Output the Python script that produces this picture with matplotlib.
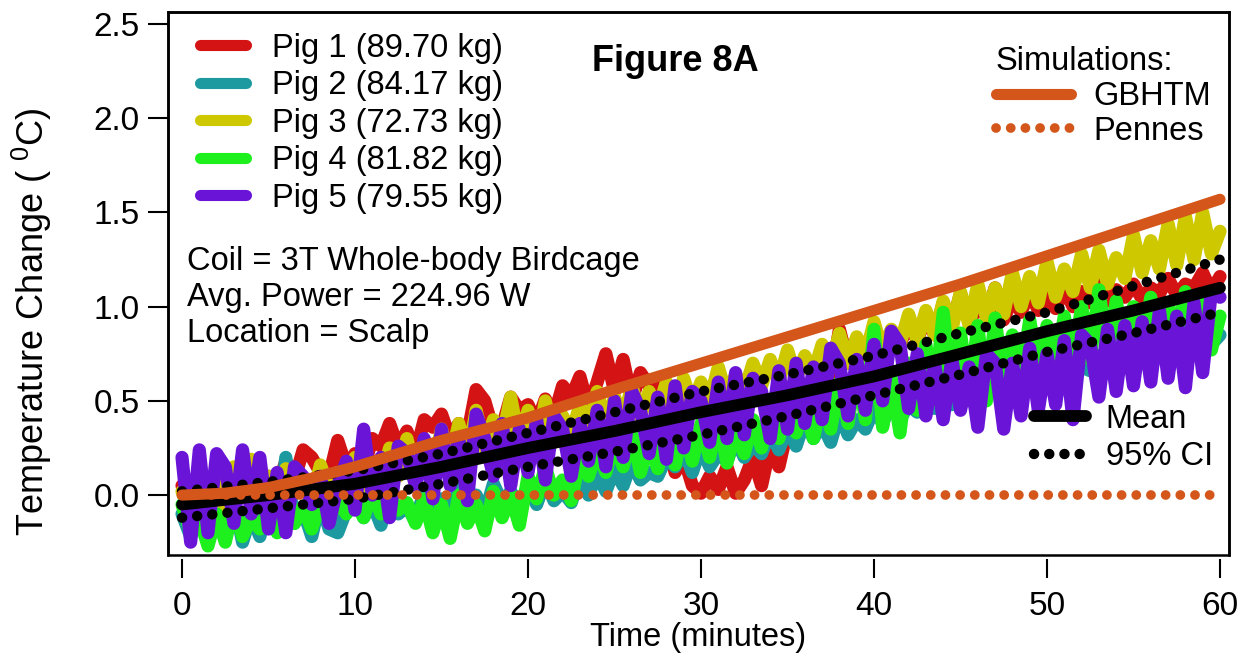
import numpy as np
import matplotlib
matplotlib.use("Agg")
import matplotlib.pyplot as plt
from matplotlib.lines import Line2D

plt.rcParams['font.family'] = ['Liberation Sans', 'DejaVu Sans']
plt.rcParams['mathtext.default'] = 'regular'

# ---------------- data ----------------
# pig traces sampled every 0.5 min, 0..60 min
t_pig = np.arange(121) * 0.5

pig1 = [0.05, -0.05, 0.10, 0.06, 0.12, -0.02, 0.08, 0.02, 0.14, 0.10,
        0.10, 0.04, 0.18, 0.08, 0.24, 0.20, 0.12, 0.10, 0.29, 0.15,
        0.22, 0.14, 0.30, 0.26, 0.38, 0.25, 0.34, 0.22, 0.40, 0.36,
        0.43, 0.30, 0.38, 0.32, 0.56, 0.50, 0.34, 0.36, 0.52, 0.45,
        0.48, 0.38, 0.51, 0.42, 0.58, 0.52, 0.63, 0.46, 0.60, 0.75,
        0.55, 0.72, 0.50, 0.65, 0.58, 0.60, 0.30, 0.12, 0.20, 0.05,
        0.01, 0.10, 0.03, 0.15, 0.01, 0.08, 0.20, 0.05, 0.26, 0.15,
        0.35, 0.30, 0.50, 0.45, 0.65, 0.60, 0.88, 0.70, 0.82, 0.75,
        0.89, 0.78, 0.85, 0.80, 0.91, 0.82, 0.95, 0.85, 1.02, 0.90,
        1.07, 0.92, 1.00, 0.95, 1.10, 0.93, 1.05, 0.97, 1.08, 0.98,
        1.06, 0.99, 1.10, 1.00, 1.08, 1.02, 1.12, 1.03, 1.09, 1.05,
        1.12, 1.04, 1.10, 1.07, 1.15, 1.06, 1.12, 1.10, 1.18, 1.08,
        1.16]

pig2 = [-0.10, -0.22, -0.05, -0.24, -0.12, -0.20, -0.02, -0.25, -0.10, -0.22,
        -0.05, -0.18, 0.20, -0.15, -0.08, -0.22, -0.02, -0.18, -0.20, -0.08,
        0.03, -0.12, -0.04, -0.16, 0.00, -0.10, -0.06, -0.14, 0.02, -0.08,
        -0.02, -0.12, 0.04, -0.08, 0.00, -0.10, 0.06, -0.04, 0.02, -0.06,
        0.05, -0.05, 0.08, -0.03, 0.02, -0.04, 0.10, 0.00, 0.12, 0.02,
        0.14, 0.05, 0.18, 0.08, 0.12, 0.10, 0.20, 0.15, 0.24, 0.12,
        0.26, 0.15, 0.22, 0.18, 0.30, 0.20, 0.27, 0.22, 0.34, 0.24,
        0.36, 0.26, 0.40, 0.30, 0.38, 0.28, 0.44, 0.32, 0.40, 0.35,
        0.46, 0.38, 0.50, 0.40, 0.48, 0.44, 0.54, 0.46, 0.52, 0.48,
        0.56, 0.50, 0.60, 0.52, 0.58, 0.55, 0.64, 0.57, 0.62, 0.60,
        0.66, 0.60, 0.70, 0.63, 0.68, 0.66, 0.74, 0.68, 0.72, 0.70,
        0.77, 0.71, 0.80, 0.74, 0.78, 0.76, 0.84, 0.78, 0.82, 0.80,
        0.85]

pig3 = [0.02, -0.10, 0.12, -0.05, 0.08, -0.08, 0.15, 0.00, 0.19, -0.02,
        0.10, -0.04, 0.14, 0.02, 0.08, -0.02, 0.16, 0.04, 0.12, 0.06,
        0.20, 0.05, 0.15, 0.08, 0.25, 0.10, 0.30, 0.12, 0.28, 0.15,
        0.35, 0.18, 0.38, 0.20, 0.45, 0.25, 0.40, 0.30, 0.52, 0.28,
        0.45, 0.25, 0.50, 0.30, 0.42, 0.32, 0.48, 0.35, 0.55, 0.38,
        0.52, 0.40, 0.58, 0.42, 0.55, 0.45, 0.60, 0.46, 0.62, 0.48,
        0.60, 0.50, 0.68, 0.52, 0.64, 0.55, 0.70, 0.58, 0.72, 0.60,
        0.77, 0.62, 0.74, 0.65, 0.80, 0.68, 0.86, 0.70, 0.84, 0.74,
        0.92, 0.76, 0.88, 0.80, 0.96, 0.82, 0.98, 0.85, 1.03, 0.88,
        1.08, 0.90, 1.12, 0.94, 1.10, 0.96, 1.18, 1.00, 1.16, 1.02,
        1.24, 1.05, 1.20, 1.08, 1.28, 1.10, 1.30, 1.12, 1.26, 1.15,
        1.38, 1.18, 1.35, 1.20, 1.44, 1.22, 1.48, 1.25, 1.50, 1.28,
        1.40]

pig4 = [-0.05, -0.20, -0.12, -0.27, -0.10, -0.25, -0.05, -0.22, -0.12, -0.18,
        -0.08, -0.20, -0.02, -0.15, -0.06, -0.18, -0.04, -0.13, -0.02, -0.10,
        -0.03, -0.12, 0.02, -0.10, 0.00, -0.08, -0.04, -0.15, -0.02, -0.20,
        -0.05, -0.23, 0.00, -0.15, -0.05, -0.19, 0.02, -0.12, 0.00, -0.16,
        0.10, -0.02, 0.15, 0.00, 0.08, -0.03, 0.20, 0.10, 0.24, 0.12,
        0.30, 0.15, 0.33, 0.12, 0.28, 0.14, 0.32, 0.16, 0.36, 0.18,
        0.38, 0.20, 0.41, 0.17, 0.35, 0.22, 0.40, 0.25, 0.46, 0.30,
        0.49, 0.33, 0.47, 0.30, 0.52, 0.35, 0.60, 0.38, 0.70, 0.40,
        0.88, 0.36, 0.62, 0.33, 0.70, 0.45, 0.80, 0.50, 0.97, 0.55,
        0.86, 0.52, 0.90, 0.50, 0.94, 0.58, 0.85, 0.62, 0.93, 0.66,
        0.90, 0.68, 0.95, 0.70, 1.00, 0.72, 1.09, 0.75, 1.03, 0.78,
        1.00, 0.80, 1.05, 0.78, 1.02, 0.82, 1.08, 0.82, 1.05, 0.77,
        0.95]

pig5 = [0.20, -0.25, 0.24, -0.20, 0.22, 0.15, -0.15, 0.24, -0.10, 0.20,
        -0.18, 0.12, -0.20, 0.15, 0.10, -0.05, 0.10, -0.15, 0.05, 0.18,
        -0.08, 0.35, 0.00, 0.20, -0.12, 0.26, 0.22, 0.05, 0.30, -0.02,
        0.35, 0.05, 0.30, -0.03, 0.43, 0.30, 0.10, 0.38, 0.05, 0.35,
        0.12, 0.40, 0.08, 0.42, 0.35, 0.10, 0.38, 0.18, 0.45, 0.15,
        0.50, 0.20, 0.55, 0.45, 0.22, 0.52, 0.19, 0.58, 0.25, 0.55,
        0.50, 0.28, 0.60, 0.30, 0.65, 0.32, 0.62, 0.55, 0.30, 0.66,
        0.35, 0.70, 0.38, 0.68, 0.40, 0.78, 0.70, 0.42, 0.72, 0.45,
        0.80, 0.50, 0.87, 0.80, 0.46, 0.75, 0.42, 0.70, 0.40, 0.72,
        0.45, 0.68, 0.36, 0.75, 0.70, 0.35, 0.70, 0.42, 0.78, 0.45,
        0.75, 0.48, 0.82, 0.40, 0.85, 0.80, 0.52, 0.88, 0.55, 0.90,
        0.58, 0.92, 0.60, 0.98, 0.62, 0.95, 0.57, 1.02, 0.65, 1.08,
        1.05]

pig_labels = ["Pig 1 (89.70 kg)", "Pig 2 (84.17 kg)", "Pig 3 (72.73 kg)",
              "Pig 4 (81.82 kg)", "Pig 5 (79.55 kg)"]
pig_colors = ["#D41414", "#1C9AA0", "#CDC800", "#1EF01E", "#6A14D8"]

# mean and 95% CI, every 5 min
t_stat = [0, 5, 10, 15, 20, 25, 30, 35, 40, 45, 50, 55, 60]
mean_v = [-0.05, 0.00, 0.06, 0.15, 0.25, 0.34, 0.44, 0.53, 0.63, 0.75, 0.87, 0.98, 1.10]
ci_up = [0.02, 0.07, 0.13, 0.22, 0.33, 0.44, 0.55, 0.64, 0.74, 0.86, 0.97, 1.11, 1.25]
ci_lo = [-0.12, -0.07, -0.02, 0.06, 0.15, 0.23, 0.32, 0.42, 0.53, 0.64, 0.76, 0.86, 0.97]

# simulations
t_sim = [0, 2.5, 5, 7.5, 10, 12.5, 15, 17.5, 20, 25, 30, 35, 40, 45, 50, 55, 60]
gbhtm = [0.0, 0.01, 0.04, 0.09, 0.15, 0.22, 0.29, 0.35, 0.41, 0.56, 0.70, 0.84,
         0.98, 1.12, 1.27, 1.42, 1.57]
pennes_t = [0, 60]
pennes = [0.0, 0.0]

orange = "#D4561A"
FS = 23.5

# ---------------- figure ----------------
fig = plt.figure(figsize=(12.51, 6.62), dpi=100)
ax = fig.add_axes([168/1251, 107/662, (1229-168)/1251, (555-12)/662])

for y, c in zip([pig1, pig2, pig3, pig4, pig5], pig_colors):
    ax.plot(t_pig, y, color=c, lw=9.5, solid_capstyle='round',
            solid_joinstyle='round', zorder=2)

ax.plot(t_stat, mean_v, color='black', lw=8.5, solid_capstyle='round', zorder=3)
for ci in (ci_up, ci_lo):
    ax.plot(t_stat, ci, color='black', lw=7.5, linestyle=(0, (0.01, 1.45)),
            dash_capstyle='round', zorder=3)

ax.plot(pennes_t, pennes, color=orange, lw=7.0, linestyle=(0, (0.01, 1.5)),
        dash_capstyle='round', zorder=4)
ax.plot(t_sim, gbhtm, color=orange, lw=8.0, solid_capstyle='round', zorder=5)

ax.set_xlim(-0.81, 60.52)
ax.set_ylim(-0.318, 2.564)
ax.set_xticks([0, 10, 20, 30, 40, 50, 60])
ax.set_yticks([0.0, 0.5, 1.0, 1.5, 2.0, 2.5])
ax.set_yticklabels(["0.0", "0.5", "1.0", "1.5", "2.0", "2.5"])

for s in ax.spines.values():
    s.set_linewidth(1.8)
ax.spines['bottom'].set_position(('outward', 3))
ax.spines['bottom'].set_color('none')
frame = plt.Rectangle((0, 0), 1, 1, transform=ax.transAxes, fill=False,
                      lw=1.8, ec='black', zorder=10, clip_on=False)
ax.add_patch(frame)

ax.tick_params(axis='y', direction='out', length=14.5, width=1.5, pad=6,
               labelsize=24)
ax.tick_params(axis='x', direction='out', length=14, width=1.5, pad=9,
               labelsize=24)

ax.set_xlabel("Time (minutes)", fontsize=FS, labelpad=0)
ax.set_ylabel("Temperature Change ( $^{0}$C)", fontsize=26)
ax.yaxis.set_label_coords(-0.107, 0.43)

# pig legend
pig_handles = [Line2D([], [], color=c, lw=8, solid_capstyle='round') for c in pig_colors]
leg1 = ax.legend(pig_handles, pig_labels, loc='upper left',
                 bbox_to_anchor=(0.030, 0.962), frameon=False, fontsize=FS,
                 handlelength=1.4, handletextpad=0.8, labelspacing=0.2,
                 borderpad=0, borderaxespad=0)
ax.add_artist(leg1)

# simulations legend
sim_handles = [Line2D([], [], color=orange, lw=8, solid_capstyle='round'),
               Line2D([], [], color=orange, lw=7, linestyle=(0, (0.01, 1.5)),
                      dash_capstyle='round')]
leg2 = ax.legend(sim_handles, ["GBHTM", "Pennes"], loc='upper left',
                 bbox_to_anchor=(0.780, 0.937), frameon=False, fontsize=FS,
                 title="Simulations:", title_fontsize=FS, alignment='left',
                 handlelength=2.3, handletextpad=0.7, labelspacing=0.1,
                 borderpad=0, borderaxespad=0)
leg2._legend_box.sep = 3
ax.add_artist(leg2)

# mean legend
stat_handles = [Line2D([], [], color='black', lw=8.5, solid_capstyle='round'),
                Line2D([], [], color='black', lw=7.5, linestyle=(0, (0.01, 1.45)),
                       dash_capstyle='round')]
leg3 = ax.legend(stat_handles, ["Mean", "95% CI"], loc='upper left',
                 bbox_to_anchor=(0.816, 0.279), frameon=False, fontsize=FS,
                 handlelength=1.6, handletextpad=0.6, labelspacing=0.2,
                 borderpad=0, borderaxespad=0)

ax.text(0.478, 0.908, "Figure 8A", transform=ax.transAxes, fontsize=26,
        fontweight='bold', ha='center', va='center')
ax.text(0.018, 0.5396, "Coil = 3T Whole-body Birdcage", transform=ax.transAxes,
        fontsize=FS, ha='left', va='center')
ax.text(0.018, 0.4733, "Avg. Power = 224.96 W", transform=ax.transAxes,
        fontsize=FS, ha='left', va='center')
ax.text(0.018, 0.4088, "Location = Scalp", transform=ax.transAxes,
        fontsize=FS, ha='left', va='center')

fig.savefig("out.png", dpi=100)
